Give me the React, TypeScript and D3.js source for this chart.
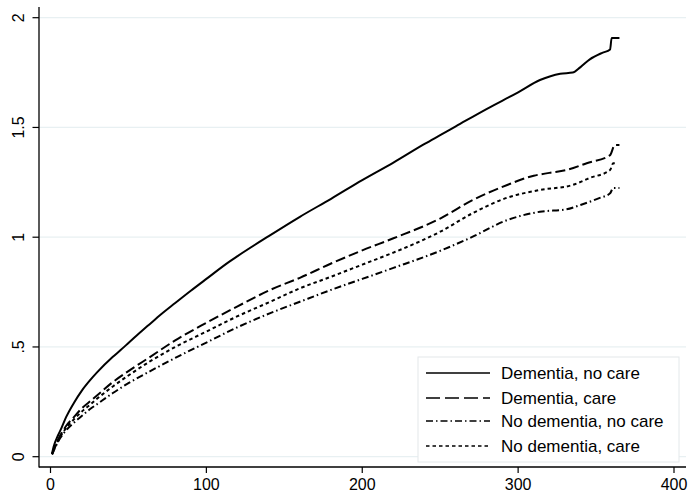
import React, { useEffect, useRef } from 'react';
import * as d3 from 'd3';

// days since start (x) and cumulative hazard (y)
const demNoCareDays = [1, 2, 5, 7, 10, 15, 20, 25, 30, 40, 45, 50, 60, 64, 70, 80, 90, 100, 115, 120, 140, 160, 180, 200, 220, 240, 250, 260, 280, 300, 314, 327, 335, 340, 346, 354, 359, 360, 365];
const demNoCare = [0.015, 0.045, 0.1, 0.13, 0.18, 0.245, 0.3, 0.345, 0.385, 0.455, 0.486, 0.518, 0.582, 0.606, 0.643, 0.7, 0.756, 0.81, 0.89, 0.914, 1.005, 1.093, 1.175, 1.26, 1.34, 1.425, 1.465, 1.505, 1.585, 1.66, 1.716, 1.745, 1.75, 1.775, 1.81, 1.84, 1.855, 1.908, 1.908];

const demCareDays = [1, 5, 10, 15, 20, 25, 30, 40, 50, 64, 80, 100, 120, 141, 160, 180, 200, 220, 250, 271, 293, 310, 320, 331, 344, 359, 362, 365];
const demCare = [0.012, 0.08, 0.14, 0.18, 0.22, 0.25, 0.28, 0.34, 0.39, 0.455, 0.53, 0.61, 0.685, 0.76, 0.815, 0.88, 0.94, 0.995, 1.085, 1.17, 1.238, 1.28, 1.293, 1.306, 1.337, 1.374, 1.42, 1.42];

const noDemNoCareDays = [1, 5, 10, 15, 20, 25, 30, 40, 50, 64, 80, 100, 120, 141, 160, 180, 200, 220, 250, 269, 293, 314, 331, 340, 352, 359, 361, 365];
const noDemNoCare = [0.01, 0.07, 0.12, 0.155, 0.185, 0.215, 0.24, 0.29, 0.335, 0.39, 0.45, 0.52, 0.59, 0.654, 0.706, 0.76, 0.81, 0.86, 0.938, 0.996, 1.078, 1.116, 1.127, 1.147, 1.178, 1.2, 1.224, 1.224];

const noDemCareDays = [1, 5, 10, 15, 20, 25, 30, 40, 50, 64, 80, 100, 120, 141, 160, 180, 200, 220, 250, 271, 293, 314, 335, 346, 359, 361, 363];
const noDemCare = [0.012, 0.075, 0.13, 0.17, 0.205, 0.235, 0.265, 0.32, 0.37, 0.435, 0.5, 0.57, 0.64, 0.706, 0.767, 0.82, 0.875, 0.93, 1.025, 1.11, 1.18, 1.215, 1.238, 1.27, 1.306, 1.337, 1.337];

const seriesNames = ['Dementia, no care', 'Dementia, care', 'No dementia, no care', 'No dementia, care'];
const xTicks = [0, 100, 200, 300, 400];
const yTicks = [0, 0.5, 1, 1.5, 2];
const yTickLabels = ['0', '.5', '1', '1.5', '2'];

const FONT = '"Liberation Sans", Arial, sans-serif';

function App() {
  const ref = useRef(null);

  useEffect(() => {
    const svg = d3.select(ref.current);
    svg.selectAll('*').remove();

    const x = d3.scaleLinear().domain([0, 400]).range([50.5, 674]);
    const y = d3.scaleLinear().domain([0, 2]).range([456.7, 17.7]);
    const axisLeft = 39;
    const axisBottom = 467;
    const plotRight = 686;

    svg.append('rect').attr('width', 690).attr('height', 492).attr('fill', '#fff');

    // gridlines
    svg.append('g')
      .selectAll('line')
      .data(yTicks)
      .join('line')
      .attr('x1', axisLeft)
      .attr('x2', plotRight)
      .attr('y1', d => y(d))
      .attr('y2', d => y(d))
      .attr('stroke', '#e8f0f2')
      .attr('stroke-width', 1.2);

    const series = [
      { days: demNoCareDays, vals: demNoCare, dash: null, legendDash: null },
      { days: demCareDays, vals: demCare, dash: '10 4', legendDash: '14 5' },
      { days: noDemNoCareDays, vals: noDemNoCare, dash: '7 3 1.5 3', legendDash: '7 3 1.5 3' },
      { days: noDemCareDays, vals: noDemCare, dash: '3.5 3', legendDash: '3.5 3' },
    ];

    const line = d3.line()
      .curve(d3.curveMonotoneX)
      .x(d => x(d[0]))
      .y(d => y(d[1]));

    series.forEach(s => {
      const pts = s.days.map((d, i) => [d, s.vals[i]]);
      svg.append('path')
        .attr('d', line(pts))
        .attr('fill', 'none')
        .attr('stroke', '#000')
        .attr('stroke-width', 2)
        .attr('stroke-linejoin', 'round')
        .attr('stroke-dasharray', s.dash);
    });

    // axes
    svg.append('line')
      .attr('x1', axisLeft).attr('x2', axisLeft)
      .attr('y1', 7).attr('y2', axisBottom + 0.5)
      .attr('stroke', '#000').attr('stroke-width', 1.3);
    svg.append('line')
      .attr('x1', axisLeft).attr('x2', plotRight)
      .attr('y1', axisBottom).attr('y2', axisBottom)
      .attr('stroke', '#000').attr('stroke-width', 1.3);

    const yt = svg.append('g');
    yt.selectAll('line')
      .data(yTicks)
      .join('line')
      .attr('x1', 32.5).attr('x2', axisLeft)
      .attr('y1', d => y(d)).attr('y2', d => y(d))
      .attr('stroke', '#000').attr('stroke-width', 1.2);
    yt.selectAll('text')
      .data(yTicks)
      .join('text')
      .attr('transform', d => `translate(24,${y(d)}) rotate(-90)`)
      .attr('text-anchor', 'middle')
      .attr('font-family', FONT)
      .attr('font-size', 16)
      .text((_, i) => yTickLabels[i]);

    const xt = svg.append('g');
    xt.selectAll('line')
      .data(xTicks)
      .join('line')
      .attr('x1', d => x(d)).attr('x2', d => x(d))
      .attr('y1', axisBottom).attr('y2', 473)
      .attr('stroke', '#000').attr('stroke-width', 1.2);
    xt.selectAll('text')
      .data(xTicks)
      .join('text')
      .attr('x', d => x(d))
      .attr('y', 490)
      .attr('text-anchor', 'middle')
      .attr('font-family', FONT)
      .attr('font-size', 16)
      .text(d => d);

    // legend
    const legend = svg.append('g').attr('transform', 'translate(418,357)');
    legend.append('rect')
      .attr('width', 261).attr('height', 105)
      .attr('fill', '#fff')
      .attr('stroke', '#e3e8ea')
      .attr('stroke-width', 1);
    const rows = [16, 41, 64, 89];
    series.forEach((s, i) => {
      legend.append('line')
        .attr('x1', 8).attr('x2', 72)
        .attr('y1', rows[i]).attr('y2', rows[i])
        .attr('stroke', '#000')
        .attr('stroke-width', 1.3)
        .attr('stroke-dasharray', s.legendDash);
      legend.append('text')
        .attr('x', 83)
        .attr('y', rows[i] + 6)
        .attr('font-family', FONT)
        .attr('font-size', 17)
        .text(seriesNames[i]);
    });
  }, []);

  return (
    <svg
      ref={ref}
      width={690}
      height={492}
      style={{ position: 'absolute', left: 0, top: 0, display: 'block' }}
    />
  );
}

export default App;
